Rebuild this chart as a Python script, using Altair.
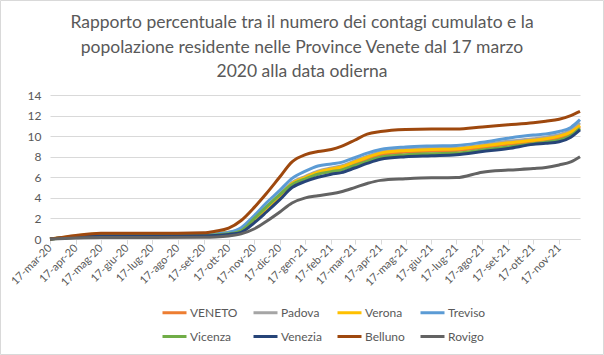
import altair as alt
import pandas as pd

dates = ["2020/03/17", "2020/04/17", "2020/05/17", "2020/07/17", "2020/09/17", "2020/10/01",
         "2020/10/17", "2020/11/01", "2020/11/17", "2020/12/01", "2020/12/17", "2021/01/01",
         "2021/01/17", "2021/02/01", "2021/02/17", "2021/03/01", "2021/03/17", "2021/04/01",
         "2021/04/17", "2021/05/17", "2021/06/17", "2021/07/17", "2021/08/17", "2021/09/17",
         "2021/10/17", "2021/11/01", "2021/11/17", "2021/12/01", "2021/12/12"]

veneto = [0, 0.22, 0.38, 0.4, 0.42, 0.45, 0.55, 0.8, 1.9, 2.95, 4.15, 5.3, 5.9, 6.4, 6.7, 6.85, 7.35,
          7.8, 8.2, 8.45, 8.55, 8.6, 8.9, 9.2, 9.45, 9.6, 9.85, 10.25, 10.9]
padova = [0, 0.25, 0.42, 0.45, 0.47, 0.5, 0.6, 0.9, 2.0, 3.1, 4.3, 5.5, 6.1, 6.6, 6.9, 7.1, 7.6,
          8.05, 8.45, 8.7, 8.8, 8.85, 9.15, 9.5, 9.75, 9.9, 10.15, 10.6, 11.3]
verona = [0, 0.3, 0.5, 0.52, 0.54, 0.56, 0.65, 0.9, 1.9, 3.0, 4.2, 5.4, 6.0, 6.5, 6.8, 7.0, 7.5,
          7.95, 8.35, 8.6, 8.7, 8.75, 9.05, 9.35, 9.6, 9.75, 10.0, 10.4, 11.05]
treviso = [0, 0.25, 0.4, 0.42, 0.45, 0.5, 0.65, 1.1, 2.3, 3.5, 4.7, 5.9, 6.6, 7.1, 7.3, 7.45, 7.9,
           8.35, 8.7, 8.95, 9.05, 9.1, 9.4, 9.8, 10.1, 10.2, 10.45, 10.85, 11.6]
vicenza = [0, 0.18, 0.32, 0.34, 0.36, 0.4, 0.5, 0.8, 2.0, 3.1, 4.3, 5.3, 5.85, 6.3, 6.55, 6.7, 7.15,
           7.55, 7.95, 8.2, 8.3, 8.35, 8.65, 8.95, 9.25, 9.4, 9.6, 10.05, 10.75]
venezia = [0, 0.2, 0.3, 0.3, 0.32, 0.35, 0.45, 0.65, 1.6, 2.6, 3.8, 5.0, 5.6, 6.0, 6.3, 6.45, 6.9,
           7.35, 7.75, 8.0, 8.1, 8.2, 8.5, 8.8, 9.2, 9.3, 9.45, 9.9, 10.6]
belluno = [0, 0.35, 0.55, 0.55, 0.6, 0.75, 1.05, 1.8, 3.1, 4.4, 6.0, 7.5, 8.2, 8.5, 8.7, 9.0, 9.6,
           10.2, 10.45, 10.65, 10.7, 10.7, 10.9, 11.1, 11.3, 11.45, 11.65, 12.0, 12.4]
rovigo = [0, 0.1, 0.15, 0.15, 0.17, 0.2, 0.3, 0.5, 1.0, 1.7, 2.6, 3.5, 4.0, 4.2, 4.4, 4.6, 5.0,
          5.4, 5.7, 5.85, 5.95, 5.97, 6.5, 6.7, 6.85, 6.95, 7.2, 7.5, 8.0]

series_names = ["VENETO", "Padova", "Verona", "Treviso", "Vicenza", "Venezia", "Belluno", "Rovigo"]
series_values = [veneto, padova, verona, treviso, vicenza, venezia, belluno, rovigo]
series_colors = ["#ED7D31", "#A5A5A5", "#FFC000", "#5B9BD5", "#70AD47", "#264478", "#9E480E", "#636363"]

tick_months = [(2020, m) for m in range(3, 13)] + [(2021, m) for m in range(1, 12)]
month_names = ["gen", "feb", "mar", "apr", "mag", "giu", "lug", "ago", "set", "ott", "nov", "dic"]

title_lines = ["Rapporto percentuale tra il numero dei contagi cumulato e la",
               "popolazione residente nelle Province Venete dal 17 marzo",
               "2020 alla data odierna"]

rows = []
for si, (name, vals) in enumerate(zip(series_names, series_values)):
    for d, v in zip(dates, vals):
        rows.append({"data": d, "serie": name, "valore": v, "ordine": si})
df = pd.DataFrame(rows)

FONT = "Lato"
GRAY = "#595959"

month_arr = "[" + ",".join("'%s'" % m for m in month_names) + "]"
label_expr = "'17-' + %s[month(datum.value)] + '-' + timeFormat(datum.value, '%%y')" % month_arr

lines = alt.Chart(df).mark_line(strokeWidth=3, interpolate="monotone").encode(
    x=alt.X("data:T",
            scale=alt.Scale(domain=[alt.DateTime(year=2020, month=3, date=17),
                                    alt.DateTime(year=2021, month=12, date=12)], nice=False),
            axis=alt.Axis(values=[alt.DateTime(year=y, month=m, date=17) for y, m in tick_months],
                          labelExpr=label_expr, labelAngle=-45, labelAlign="right",
                          labelBaseline="middle", labelFont=FONT, labelFontSize=11,
                          labelColor=GRAY, domainColor="#D9D9D9", tickColor="#D9D9D9",
                          tickSize=5, grid=False, title=None, labelPadding=2,
                          labelOverlap=False, labelFlush=False)),
    y=alt.Y("valore:Q", scale=alt.Scale(domain=[0, 14], nice=False),
            axis=alt.Axis(values=list(range(0, 15, 2)), labelFont=FONT, labelFontSize=12,
                          labelColor=GRAY, domain=False, ticks=False, gridColor="#D9D9D9",
                          title=None, labelPadding=9)),
    color=alt.Color("serie:N", sort=series_names,
                    scale=alt.Scale(domain=series_names, range=series_colors),
                    legend=alt.Legend(title=None, orient="none", legendX=111, legendY=204,
                                      direction="horizontal", columns=4,
                                      symbolType="stroke", symbolStrokeWidth=3,
                                      symbolSize=576, labelFont=FONT, labelFontSize=12,
                                      labelColor=GRAY, columnPadding=9, rowPadding=4,
                                      labelOffset=2)),
    order=alt.Order("ordine:Q"),
    detail="serie:N",
)

title = alt.Chart(alt.Data(values=[{}])).mark_text(
    font=FONT, fontSize=17.5, color=GRAY, lineHeight=24.5, baseline="top", align="center"
).encode(
    text=alt.value(title_lines), x=alt.value(252), y=alt.value(-81)
)

border = alt.Chart(alt.Data(values=[{}])).mark_rect(fill=None, stroke="#D9D9D9", strokeWidth=1).encode(
    x=alt.value(-49.5), x2=alt.value(553.5), y=alt.value(-94.5), y2=alt.value(259.5)
)

chart = alt.layer(border, title, lines).properties(
    width=530, height=144,
    autosize=alt.AutoSizeParams(type="none"),
    padding={"left": 50, "top": 95, "right": 24, "bottom": 116},
).configure(background="white").configure_view(stroke=None)

chart.save("out.html", embed_options={"renderer": "svg", "actions": False})
